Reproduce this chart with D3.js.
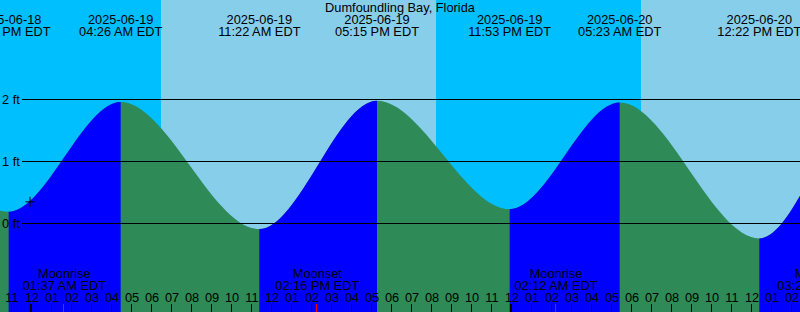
<!DOCTYPE html>
<html>
<head>
<meta charset="utf-8">
<script src="https://cdn.jsdelivr.net/npm/d3@7"></script>
<style>
    body { margin: 0; background: #fff; }
    svg { display: block; }
    text { font-family: "Liberation Sans", Arial, sans-serif; font-size: 12.8px; fill: #000; }
</style>
</head>
<body>
<div id="chart"></div>
<script>
// tide extremes (local EDT wall clock), heights in ft
var tideTimes = ["2025-06-18 10:05", "2025-06-18 16:10", "2025-06-18 22:50", "2025-06-19 04:26", "2025-06-19 11:22",
    "2025-06-19 17:15", "2025-06-19 23:53", "2025-06-20 05:23", "2025-06-20 12:22", "2025-06-20 17:55", "2025-06-21 00:35"]
var tideHeights = [-0.02, 1.97, 0.19, 1.96, -0.09, 1.98, 0.23, 1.95, -0.24, 2.02, 0.25]

var moonTimes = ["2025-06-19 01:37", "2025-06-19 14:16", "2025-06-20 02:12", "2025-06-20 15:22"]
var moonEvents = ["Moonrise", "Moonset", "Moonrise", "Moonset"]

// sunrise, sunset pairs
var sunTimes = ["2025-06-19 06:27", "2025-06-19 20:12", "2025-06-20 06:27", "2025-06-20 20:13"]

var depthTicks = [0, 1, 2]
var nowTime = "2025-06-18 23:54"
var nowHeight = 0.35

var title = "Dumfoundling Bay, Florida"
var startTime = "2025-06-18 22:24"
var endTime = "2025-06-20 14:24"

var width = 800, height = 312
var parse = d3.utcParse("%Y-%m-%d %H:%M")
var fmtDate = d3.utcFormat("%Y-%m-%d")
var fmtTime = d3.utcFormat("%I:%M %p EDT")
var fmtHour = d3.utcFormat("%I")

var tides = tideTimes.map(function(t, i){ return {time: parse(t), val: tideHeights[i]} })

var xScale = d3.scaleUtc()
    .domain([parse(startTime), parse(endTime)])
    .range([0, width])

var yScale = d3.scaleLinear()
    .domain([0, 2])
    .range([223.5, 99.5])

const svg = d3.select("#chart")
    .append("svg")
    .attr("width", width)
    .attr("height", height)

// night background, day bands on top
svg.append("rect")
    .attr("width", width).attr("height", height)
    .attr("fill", "#00bfff")

var days = []
for (var i = 0; i < sunTimes.length; i += 2) {
    days.push([parse(sunTimes[i]), parse(sunTimes[i + 1])])
}
svg.append("g").selectAll("rect").data(days).enter()
    .append("rect")
    .attr("x", function(d){ return xScale(d[0]) })
    .attr("width", function(d){ return xScale(d[1]) - xScale(d[0]) })
    .attr("y", 0)
    .attr("height", height)
    .attr("fill", "#87ceeb")

// tide curve: ebb in green, flood in blue clipped to rising stretches
var area = d3.area()
    .x(function(d){ return xScale(d.time) })
    .y0(height)
    .y1(function(d){ return yScale(d.val) })
    .curve(d3.curveMonotoneX)

var rising = []
for (var j = 0; j < tides.length - 1; j++) {
    if (tides[j + 1].val > tides[j].val) rising.push([tides[j].time, tides[j + 1].time])
}
svg.append("clipPath").attr("id", "flood")
    .selectAll("rect").data(rising).enter()
    .append("rect")
    .attr("x", function(d){ return xScale(d[0]) })
    .attr("width", function(d){ return xScale(d[1]) - xScale(d[0]) })
    .attr("y", 0)
    .attr("height", height)

svg.append("path")
    .datum(tides)
    .attr("d", area)
    .attr("fill", "#2e8b57")

svg.append("path")
    .datum(tides)
    .attr("d", area)
    .attr("fill", "#0000ff")
    .attr("clip-path", "url(#flood)")

// depth grid
var grid = svg.append("g")
grid.selectAll("line").data(depthTicks).enter()
    .append("line")
    .attr("x1", 22).attr("x2", width)
    .attr("y1", function(d){ return yScale(d) })
    .attr("y2", function(d){ return yScale(d) })
    .attr("stroke", "#000")
    .attr("stroke-width", 1)
grid.selectAll("text").data(depthTicks).enter()
    .append("text")
    .attr("x", 2)
    .attr("y", function(d){ return yScale(d) + 4.5 })
    .text(function(d){ return d + " ft" })

// hour ticks along the bottom
var hours = xScale.ticks(d3.utcHour.every(1))
svg.append("g").selectAll("text").data(hours).enter()
    .append("text")
    .attr("x", function(d){ return xScale(d) })
    .attr("y", 302)
    .attr("text-anchor", "middle")
    .text(function(d){ return fmtHour(d) })

svg.append("g").selectAll("line").data(hours).enter()
    .append("line")
    .attr("x1", function(d){ return Math.round(xScale(d)) - (d.getUTCHours() == 0 ? 1 : 0.5) })
    .attr("x2", function(d){ return Math.round(xScale(d)) - (d.getUTCHours() == 0 ? 1 : 0.5) })
    .attr("y1", 304).attr("y2", height)
    .attr("stroke", "#000")
    .attr("stroke-width", function(d){ return d.getUTCHours() == 0 ? 2 : 1 })

// moon rise / set
var moons = moonTimes.map(function(t, i){ return {time: parse(t), name: moonEvents[i]} })
var moonGrp = svg.append("g")
moonGrp.selectAll("line").data(moons).enter()
    .append("line")
    .attr("x1", function(d){ return Math.round(xScale(d.time)) - 0.5 })
    .attr("x2", function(d){ return Math.round(xScale(d.time)) - 0.5 })
    .attr("y1", 304).attr("y2", height)
    .attr("stroke", "#ff0000")
moonGrp.selectAll(".moon-name").data(moons).enter()
    .append("text")
    .attr("x", function(d){ return xScale(d.time) })
    .attr("y", 277.5)
    .attr("text-anchor", "middle")
    .text(function(d){ return d.name })
moonGrp.selectAll(".moon-time").data(moons).enter()
    .append("text")
    .attr("x", function(d){ return xScale(d.time) })
    .attr("y", 290)
    .attr("text-anchor", "middle")
    .text(function(d){ return fmtTime(d.time) })

// tide event labels at the top
var evGrp = svg.append("g")
evGrp.selectAll(".ev-date").data(tides).enter()
    .append("text")
    .attr("x", function(d){ return xScale(d.time) })
    .attr("y", 24)
    .attr("text-anchor", "middle")
    .text(function(d){ return fmtDate(d.time) })
evGrp.selectAll(".ev-time").data(tides).enter()
    .append("text")
    .attr("x", function(d){ return xScale(d.time) })
    .attr("y", 36)
    .attr("text-anchor", "middle")
    .text(function(d){ return fmtTime(d.time) })

svg.append("text")
    .attr("x", width / 2)
    .attr("y", 11.5)
    .attr("text-anchor", "middle")
    .text(title)

// current time marker
var nx = xScale(parse(nowTime)), ny = yScale(nowHeight)
svg.append("path")
    .attr("d", "M" + (nx - 4.5) + "," + ny + "H" + (nx + 4.5) + "M" + nx + "," + (ny - 5) + "V" + (ny + 5))
    .attr("stroke", "#000")
    .attr("stroke-width", 1)
</script>
</body>
</html>
